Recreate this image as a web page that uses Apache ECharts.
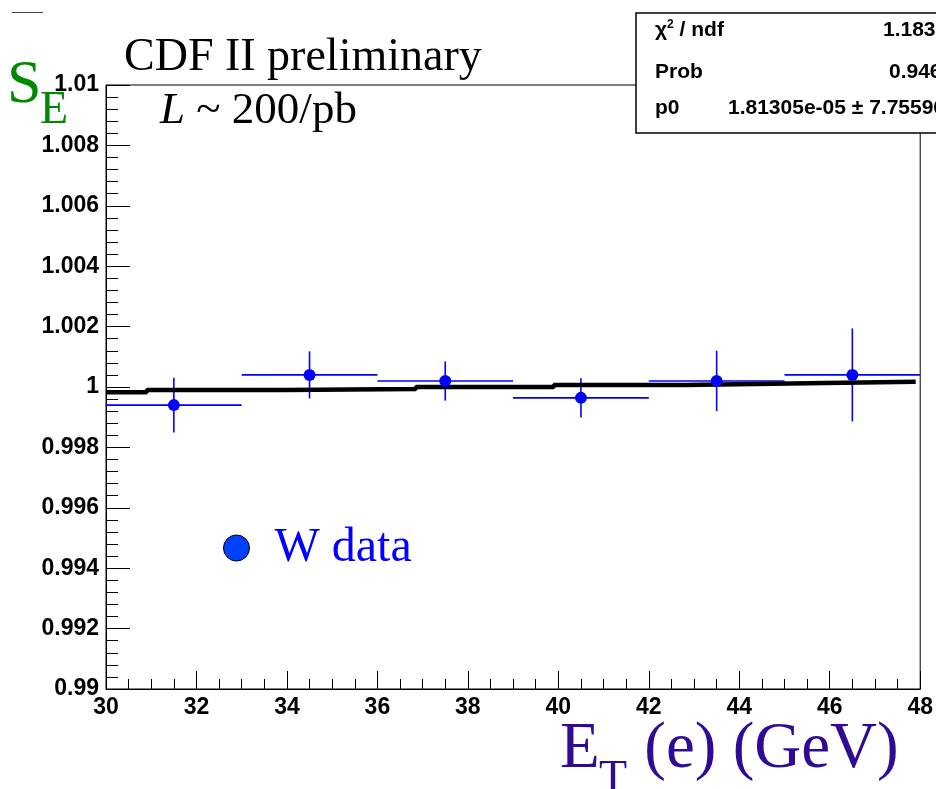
<!DOCTYPE html>
<html>
<head>
<meta charset="utf-8">
<script src="https://cdn.jsdelivr.net/npm/echarts@6/dist/echarts.min.js"></script>
<style>
html,body{margin:0;padding:0;background:#fff;}
#chart{width:936px;height:789px;}
</style>
</head>
<body>
<div id="chart"></div>
<script>
// ---- data ----
var pointX    = [31.5, 34.5, 37.5, 40.5, 43.5, 46.5];
var pointY    = [0.99940, 1.00040, 1.00020, 0.99964, 1.00020, 1.00040];
var pointXErr = [1.5, 1.5, 1.5, 1.5, 1.5, 1.5];
var pointYErr = [0.00091, 0.00078, 0.00065, 0.00065, 0.00100, 0.00154];

var fitEdges  = [30.0, 30.9, 33.95, 36.85, 39.9, 42.8, 45.9, 47.9];
var fitValues = [0.99983, 0.99990, 0.99993, 1.00000, 1.00007, 1.00013, 1.00017, 1.00017];

var xTickValues = [30, 32, 34, 36, 38, 40, 42, 44, 46, 48];
var xTickLabels = ['30', '32', '34', '36', '38', '40', '42', '44', '46', '48'];
var yTickValues = [0.99, 0.992, 0.994, 0.996, 0.998, 1.0, 1.002, 1.004, 1.006, 1.008, 1.01];
var yTickLabels = ['0.99', '0.992', '0.994', '0.996', '0.998', '1', '1.002', '1.004', '1.006', '1.008', '1.01'];

var statNames  = ['\u03C7{sup|2} / ndf', 'Prob', 'p0'];
var statValues = ['1.1830 / 5', '0.9464', '1.81305e-05 \u00B1 7.75596e-05'];

// ---- build series data ----
var errData = pointX.map(function (x, i) { return [x, pointY[i], pointXErr[i], pointYErr[i]]; });
var markerData = pointX.map(function (x, i) { return [x, pointY[i]]; });
var fitData = fitEdges.map(function (x, i) { return [x, fitValues[i]]; });

function labelFor(values, labels, v) {
  for (var i = 0; i < values.length; i++) {
    if (Math.abs(values[i] - v) < 1e-7) return labels[i];
  }
  return '';
}

var blue = '#0000ff';
var chart = echarts.init(document.getElementById('chart'), null, {renderer: 'canvas'});

var statFont = 'Liberation Sans';
var statSize = 21;
var statRowsY = [30, 72, 108];
var statValueX = [883, 889, 728];

var option = {
  animation: false,
  backgroundColor: '#fff',
  grid: {left: 106, right: 14, top: 85, bottom: 100, show: true, borderColor: '#000', borderWidth: 1, backgroundColor: 'transparent'},
  xAxis: {
    type: 'value', min: 30, max: 48, interval: 2,
    axisLine: {show: true, onZero: false, lineStyle: {color: '#000', width: 1}},
    axisTick: {show: true, inside: true, length: 18, lineStyle: {color: '#000', width: 1}},
    minorTick: {show: true, splitNumber: 4, length: 10, lineStyle: {color: '#000', width: 1}},
    splitLine: {show: false},
    axisLabel: {
      fontSize: 23, fontWeight: 'bold', color: '#000', fontFamily: 'Liberation Sans', margin: 7,
      showMinLabel: true, showMaxLabel: true,
      formatter: function (v) { return labelFor(xTickValues, xTickLabels, v); }
    }
  },
  yAxis: {
    type: 'value', min: 0.99, max: 1.01, interval: 0.002,
    axisLine: {show: true, onZero: false, lineStyle: {color: '#000', width: 1}},
    axisTick: {show: true, inside: true, length: 24, lineStyle: {color: '#000', width: 1}},
    minorTick: {show: true, splitNumber: 5, length: 12, lineStyle: {color: '#000', width: 1}},
    splitLine: {show: false},
    axisLabel: {
      fontSize: 23, fontWeight: 'bold', color: '#000', fontFamily: 'Liberation Sans', margin: 7,
      padding: [0, 0, 6, 0],
      showMinLabel: true, showMaxLabel: true,
      formatter: function (v) { return labelFor(yTickValues, yTickLabels, v); }
    }
  },
  legend: {
    show: true,
    left: 218, top: 519,
    itemWidth: 26, itemHeight: 26, itemGap: 0,
    selectedMode: false,
    textStyle: {color: blue, fontSize: 48, fontFamily: 'Liberation Serif', padding: [0, 0, 0, 20]},
    data: [{name: 'W data', icon: 'circle', itemStyle: {color: '#0040ff', opacity: 1, borderColor: '#000', borderWidth: 1}}]
  },
  series: [
    {
      name: 'errors', type: 'custom', z: 1,
      encode: {x: 0, y: 1},
      data: errData,
      renderItem: function (params, api) {
        var x = api.value(0), y = api.value(1), ex = api.value(2), ey = api.value(3);
        var l = api.coord([x - ex, y]), r = api.coord([x + ex, y]);
        var t = api.coord([x, y + ey]), b = api.coord([x, y - ey]);
        return {type: 'group', children: [
          {type: 'line', shape: {x1: l[0], y1: l[1], x2: r[0], y2: r[1]}, style: {stroke: blue, lineWidth: 1.6}},
          {type: 'line', shape: {x1: t[0], y1: t[1], x2: b[0], y2: b[1]}, style: {stroke: blue, lineWidth: 1.6}}
        ]};
      }
    },
    {
      name: 'fit', type: 'line', z: 2, step: 'end', data: fitData,
      symbol: 'none', lineStyle: {color: '#000', width: 4.5}
    },
    {
      name: 'W data', type: 'scatter', z: 3, data: markerData,
      symbol: 'circle', symbolSize: 12, itemStyle: {color: blue, opacity: 1}
    }
  ],
  graphic: [
    {type: 'line', z: 5, shape: {x1: 12, y1: 12.5, x2: 43, y2: 12.5}, style: {stroke: '#444', lineWidth: 1}},
    {type: 'text', z: 10, x: 124, y: 57.5, style: {text: 'CDF II preliminary', font: '46px "Liberation Serif"', fill: '#000', verticalAlign: 'middle', align: 'left'}},
    {type: 'text', z: 10, x: 160, y: 111, style: {
      text: '{i|L} ~ 200/pb', font: '45px "Liberation Serif"', fill: '#000', verticalAlign: 'middle', align: 'left',
      rich: {i: {fontStyle: 'italic', fontSize: 45, fontFamily: 'Liberation Serif'}}
    }},
    {type: 'text', z: 10, x: 7, y: 86, style: {text: 'S', font: '62px "Liberation Serif"', fill: '#008800', verticalAlign: 'middle', align: 'left'}},
    {type: 'text', z: 10, x: 40, y: 111, style: {text: 'E', font: '46px "Liberation Serif"', fill: '#008800', verticalAlign: 'middle', align: 'left'}},
    {type: 'text', z: 10, x: 560, y: 750, style: {text: 'E', font: '65px "Liberation Serif"', fill: '#2e0a96', verticalAlign: 'middle', align: 'left'}},
    {type: 'text', z: 10, x: 599, y: 780, style: {text: 'T', font: '46px "Liberation Serif"', fill: '#2e0a96', verticalAlign: 'middle', align: 'left'}},
    {type: 'text', z: 10, x: 628, y: 750, style: {text: ' (e) (GeV)', font: '65px "Liberation Serif"', fill: '#2e0a96', verticalAlign: 'middle', align: 'left'}},
    {type: 'rect', z: 20, shape: {x: 636, y: 13, width: 330, height: 120}, style: {fill: '#fff', stroke: '#000', lineWidth: 1.5}},
    {type: 'text', z: 21, x: 655, y: statRowsY[0], style: {
      text: statNames[0], font: 'bold ' + statSize + 'px "' + statFont + '"', fill: '#000', verticalAlign: 'middle', align: 'left',
      rich: {sup: {fontSize: 12, fontWeight: 'bold', fontFamily: statFont, verticalAlign: 'top', padding: [0, 0, 10, 0]}}
    }},
    {type: 'text', z: 21, x: 655, y: statRowsY[1], style: {text: statNames[1], font: 'bold ' + statSize + 'px "' + statFont + '"', fill: '#000', verticalAlign: 'middle', align: 'left'}},
    {type: 'text', z: 21, x: 655, y: statRowsY[2], style: {text: statNames[2], font: 'bold ' + statSize + 'px "' + statFont + '"', fill: '#000', verticalAlign: 'middle', align: 'left'}},
    {type: 'text', z: 21, x: statValueX[0], y: statRowsY[0], style: {text: statValues[0], font: 'bold ' + statSize + 'px "' + statFont + '"', fill: '#000', verticalAlign: 'middle', align: 'left'}},
    {type: 'text', z: 21, x: statValueX[1], y: statRowsY[1], style: {text: statValues[1], font: 'bold ' + statSize + 'px "' + statFont + '"', fill: '#000', verticalAlign: 'middle', align: 'left'}},
    {type: 'text', z: 21, x: statValueX[2], y: statRowsY[2], style: {text: statValues[2], font: 'bold ' + statSize + 'px "' + statFont + '"', fill: '#000', verticalAlign: 'middle', align: 'left'}}
  ]
};
chart.setOption(option);
</script>
</body>
</html>
